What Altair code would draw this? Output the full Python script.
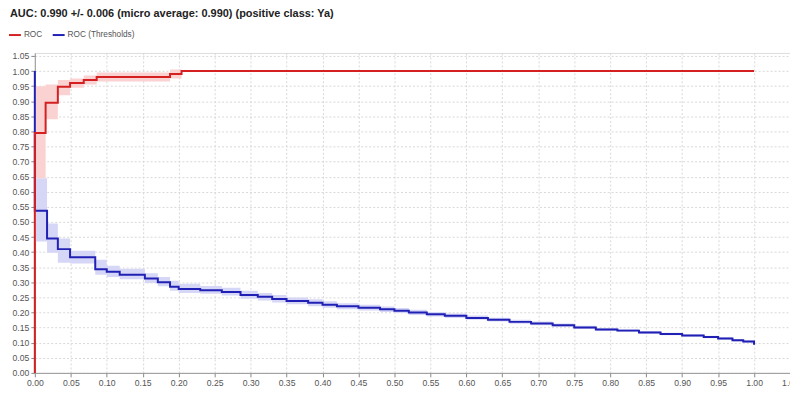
import altair as alt
import pandas as pd

# ---- data ----
roc_x = [0, 0, 0.015, 0.032, 0.049, 0.068, 0.086, 0.188, 0.204, 1.0]
roc_y = [0, 0.795, 0.895, 0.948, 0.96, 0.97, 0.98, 0.99, 1.0, 1.0]
roc_lo = [0, 0.645, 0.84, 0.92, 0.945, 0.955, 0.965, 0.975, 1.0, 1.0]
roc_hi = [0, 0.95, 0.955, 0.97, 0.975, 0.985, 0.995, 1.005, 1.0, 1.0]

thr_x = [0, 0, 0.017, 0.032, 0.049, 0.084, 0.10, 0.118, 0.153, 0.171, 0.188, 0.20,
         0.23, 0.26, 0.286, 0.31, 0.33, 0.35, 0.38, 0.40, 0.42, 0.45, 0.48, 0.50,
         0.52, 0.545, 0.57, 0.60, 0.63, 0.66, 0.69, 0.72, 0.75, 0.78, 0.81, 0.84,
         0.87, 0.90, 0.93, 0.95, 0.97, 0.985, 1.0, 1.0]
thr_y = [1.0, 0.537, 0.445, 0.41, 0.383, 0.343, 0.335, 0.325, 0.313, 0.30, 0.285, 0.278,
         0.274, 0.268, 0.258, 0.252, 0.245, 0.238, 0.232, 0.226, 0.221, 0.216, 0.211, 0.206,
         0.200, 0.194, 0.189, 0.182, 0.176, 0.169, 0.164, 0.158, 0.150, 0.144, 0.140, 0.134,
         0.129, 0.124, 0.119, 0.114, 0.108, 0.104, 0.100, 0.093]
thr_lo = [1.0, 0.435, 0.398, 0.365, 0.362, 0.325, 0.318, 0.31, 0.298, 0.287, 0.272, 0.265,
          0.262, 0.256, 0.246, 0.240, 0.233, 0.227, 0.221, 0.216, 0.211, 0.207, 0.202, 0.198,
          0.192, 0.187, 0.182, 0.176, 0.170, 0.163, 0.158, 0.153, 0.145, 0.139, 0.136, 0.130,
          0.125, 0.120, 0.115, 0.110, 0.104, 0.100, 0.096, 0.093]
thr_hi = [1.0, 0.645, 0.495, 0.445, 0.405, 0.375, 0.355, 0.345, 0.33, 0.318, 0.305, 0.295,
          0.288, 0.282, 0.272, 0.265, 0.258, 0.25, 0.244, 0.237, 0.231, 0.226, 0.22, 0.215,
          0.209, 0.202, 0.197, 0.19, 0.183, 0.176, 0.17, 0.164, 0.156, 0.149, 0.145, 0.139,
          0.133, 0.128, 0.123, 0.118, 0.112, 0.108, 0.104, 0.093]

series_names = ["ROC", "ROC (Thresholds)"]
series_colors = ["#d42020", "#2020b4"]
band_colors = ["#fad2d2", "#d6d6f7"]
ticks = [round(i * 0.05, 2) for i in range(22)]
title_text = "AUC: 0.990 +/- 0.006 (micro average: 0.990) (positive class: Ya)"

def frame(name, xs_, ys_, lo_, hi_, draw):
    return pd.DataFrame(dict(s=name, d=draw, i=list(range(len(xs_))), x=xs_, y=ys_, lo=lo_, hi=hi_))

df_roc = frame(series_names[0], roc_x, roc_y, roc_lo, roc_hi, 2)
df_thr = frame(series_names[1], thr_x, thr_y, thr_lo, thr_hi, 1)
df_all = pd.concat([df_thr, df_roc], ignore_index=True)

xs = alt.Scale(domain=[0, 1.05], nice=False, zero=False)
ys = alt.Scale(domain=[0, 1.06], nice=False, zero=False)

axis_common = dict(
    values=ticks, format=".2f", labelFont="Liberation Sans", labelFontSize=8.7,
    labelColor="#555", tickColor="#888", tickSize=4, domainColor="#999",
    gridColor="#d8d8d8", gridDash=[2, 2], gridWidth=1, title=None, labelPadding=2,
    labelOverlap=False, tickCount=22,
)
x_axis = alt.Axis(labelFlush=False, **axis_common)
y_axis = alt.Axis(**axis_common)

def band_layer(d, col):
    return alt.Chart(d).mark_area(interpolate="step-after", color=col, opacity=1).encode(
        x=alt.X("x:Q", scale=xs, axis=x_axis),
        y=alt.Y("lo:Q", scale=ys, axis=y_axis),
        y2="hi:Q",
    )

band_thr = band_layer(df_thr, band_colors[1])
band_roc = band_layer(df_roc, band_colors[0])

line = alt.Chart(df_all).mark_line(interpolate="step-after", strokeWidth=2).encode(
    x=alt.X("x:Q", scale=xs, axis=x_axis),
    y=alt.Y("y:Q", scale=ys, axis=y_axis),
    color=alt.Color(
        "s:N",
        scale=alt.Scale(domain=series_names, range=series_colors),
        sort=series_names,
        legend=alt.Legend(
            orient="none", legendX=-27, legendY=-25, direction="horizontal",
            title=None, symbolType="stroke", symbolSize=144, symbolStrokeWidth=2,
            labelFont="Liberation Sans", labelFontSize=8.3, labelColor="#555",
            labelOffset=2, columnPadding=6,
        ),
    ),
    detail="d:O",
    order="i:Q",
)

chart = alt.layer(band_thr, band_roc, line).properties(
    width=760,
    height=322,
    autosize=alt.AutoSizeParams(type="none"),
    padding={"left": 27, "top": 44, "right": 0, "bottom": 15},
    title=alt.TitleParams(
        title_text, anchor="start", frame="group", dx=-25, offset=9,
        font="Liberation Sans", fontSize=11, fontWeight="bold", color="#222",
    ),
).configure_view(stroke="#b0b0b0", strokeWidth=1.5).configure(background="white")

chart.save("out.html", embed_options={"renderer": "svg", "actions": False})
